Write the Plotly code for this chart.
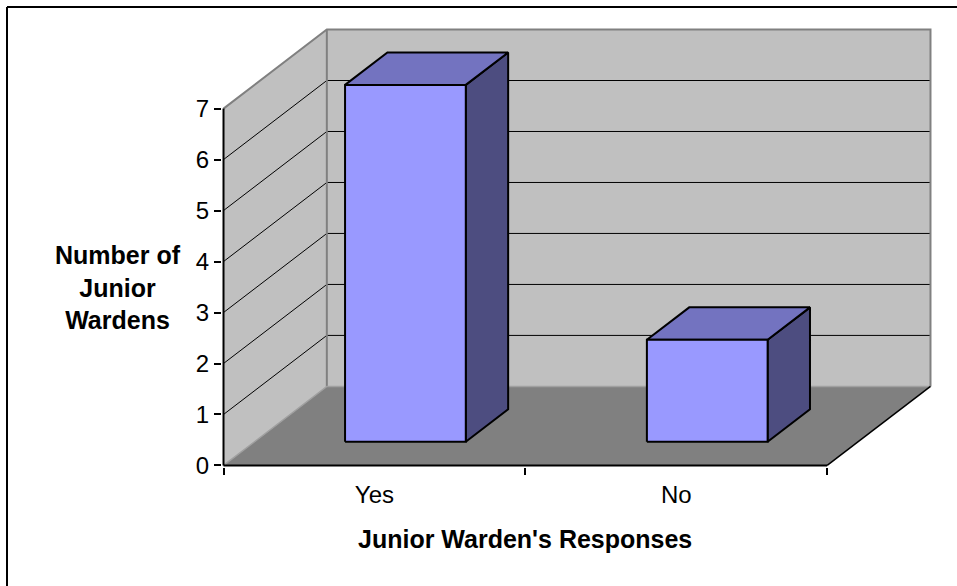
import plotly.graph_objects as go

# Survey results
categories = ["Yes", "No"]
responses = [7, 2]
y_ticks = [0, 1, 2, 3, 4, 5, 6, 7]
y_axis_max = 7

x_title = "Junior Warden's Responses"
y_title = "Number of<br>Junior<br>Wardens"

# Oblique "3-D" look: depth offset of the floor/walls in data units
DX = 0.3423   # horizontal shift per full depth (category units)
DY = 1.551    # vertical shift per full depth (value units)
BAR_D0, BAR_D1 = 0.30, 0.71   # bar depth span (fraction of full depth)
BAR_W = 0.4                   # bar width (category units)

WALL = "#C0C0C0"
FLOOR = "#808080"
EDGE = "#808080"
FRONT = "#9999FF"
TOP = "#7373C0"
SIDE = "#4D4D80"
FONT = "Liberation Sans, Arial, sans-serif"

n = len(categories)
fig = go.Figure()


def proj(x, y, d):
    return x + d * DX, y + d * DY


def poly(points, fill, line_color=None, width=0):
    xs = [p[0] for p in points] + [points[0][0]]
    ys = [p[1] for p in points] + [points[0][1]]
    fig.add_trace(go.Scatter(
        x=xs, y=ys, mode="lines", fill="toself", fillcolor=fill,
        line=dict(color=line_color or fill, width=width if line_color else 0),
        hoverinfo="skip", showlegend=False))


def seg(points, color, width):
    fig.add_trace(go.Scatter(
        x=[p[0] for p in points], y=[p[1] for p in points], mode="lines",
        line=dict(color=color, width=width), hoverinfo="skip", showlegend=False))


# walls
poly([(0, 0), proj(0, 0, 1), proj(0, y_axis_max, 1), (0, y_axis_max)], WALL)
poly([proj(0, 0, 1), proj(n, 0, 1), proj(n, y_axis_max, 1), proj(0, y_axis_max, 1)], WALL)

# gridlines on side and back walls
for k in y_ticks[1:-1]:
    seg([(0, k), proj(0, k, 1), proj(n, k, 1)], "black", 1)

# wall outlines
seg([(0, y_axis_max), proj(0, y_axis_max, 1), proj(n, y_axis_max, 1), proj(n, 0, 1)], EDGE, 2)
seg([proj(0, 0, 1), proj(0, y_axis_max, 1)], EDGE, 2)

# floor
poly([(0, 0), (n, 0), proj(n, 0, 1), proj(0, 0, 1)], FLOOR)
seg([(0, 0), proj(0, 0, 1), proj(n, 0, 1)], "#A0A0A0", 1.5)
seg([(n, 0), proj(n, 0, 1)], "black", 1.5)
seg([(0, 0), (n, 0)], "black", 2)
seg([(0, 0), (0, y_axis_max)], "black", 2)

# bars
for i, v in enumerate(responses):
    xl = i + 0.5 - BAR_W / 2
    xr = i + 0.5 + BAR_W / 2
    fbl, fbr = proj(xl, 0, BAR_D0), proj(xr, 0, BAR_D0)
    ftl, ftr = proj(xl, v, BAR_D0), proj(xr, v, BAR_D0)
    btl, btr = proj(xl, v, BAR_D1), proj(xr, v, BAR_D1)
    bbr = proj(xr, 0, BAR_D1)
    poly([ftr, btr, bbr, fbr], SIDE, "black", 2)
    poly([ftl, ftr, btr, btl], TOP, "black", 2)
    poly([fbl, fbr, ftr, ftl], FRONT, "black", 2)

pad_x, pad_y = 0.005, 0.03
x_range = [-pad_x, n + DX + pad_x]
y_range = [-pad_y, y_axis_max + DY + pad_y]

# invisible trace to register the second x axis (tick marks at category edges)
fig.add_trace(go.Scatter(x=[0], y=[0], xaxis="x2", mode="markers",
                         marker=dict(opacity=0), hoverinfo="skip", showlegend=False))

# chart-area frame: only its left and top sides fall inside the page
fx0, fy0 = (7 - 222) / 710, 1 + (28 - 7) / 439
frame = [
    dict(type="line", xref="paper", yref="paper", x0=fx0, y0=fy0, x1=fx0, y1=-0.5,
         line=dict(color="black", width=2)),
    dict(type="line", xref="paper", yref="paper", x0=fx0, y0=fy0, x1=1.5, y1=fy0,
         line=dict(color="black", width=2)),
]

fig.update_layout(
    width=957, height=586,
    margin=dict(l=222, r=25, t=28, b=119),
    paper_bgcolor="white", plot_bgcolor="white",
    font=dict(family=FONT, color="black", size=24),
    xaxis=dict(range=x_range, showgrid=False, zeroline=False, showline=False,
               tickvals=[i + 0.5 for i in range(n)], ticktext=categories,
               ticks="", tickfont=dict(size=24), ticklabelstandoff=11),
    xaxis2=dict(range=x_range, overlaying="x", anchor="y", side="bottom",
                showgrid=False, zeroline=False, showline=False,
                tickvals=list(range(n + 1)), ticks="outside", ticklen=7,
                tickwidth=1.5, tickcolor="black", showticklabels=False),
    yaxis=dict(range=y_range, showgrid=False, zeroline=False, showline=False,
               tickvals=y_ticks, ticks="outside", ticklen=7, tickwidth=1.5,
               tickcolor="black", tickfont=dict(size=24)),
    annotations=[
        dict(text=f"<b>{x_title}</b>", xref="paper", yref="paper",
             x=(525 - 222) / 710, y=-(539 - 467) / 439, xanchor="center",
             yanchor="middle", showarrow=False, font=dict(size=25)),
        dict(text=f"<b>{y_title}</b>", xref="paper", yref="paper",
             x=(118 - 222) / 710, y=1 - (287 - 28) / 439, xanchor="center",
             yanchor="middle", showarrow=False, font=dict(size=25)),
    ],
    shapes=frame,
)

fig.write_html("out.html")
